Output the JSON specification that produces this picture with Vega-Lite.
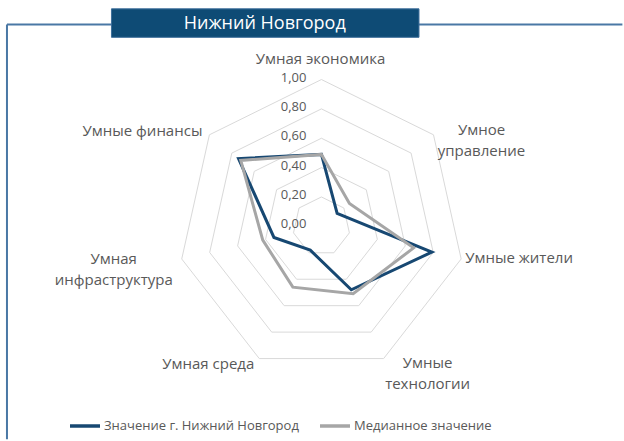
{
  "$schema": "https://vega.github.io/schema/vega-lite/v6.json",
  "width": 624,
  "height": 441,
  "autosize": {"type": "fit", "contains": "padding"},
  "padding": 0,
  "background": "white",
  "config": {"view": {"stroke": null}, "font": "Open Sans"},
  "datasets": {
    "scores": [
      {"series": "Значение г. Нижний Новгород", "axis": "Умная экономика", "k": 0, "value": 0.49},
      {"series": "Значение г. Нижний Новгород", "axis": "Умное управление", "k": 1, "value": 0.14},
      {"series": "Значение г. Нижний Новгород", "axis": "Умные жители", "k": 2, "value": 0.79},
      {"series": "Значение г. Нижний Новгород", "axis": "Умные технологии", "k": 3, "value": 0.48},
      {"series": "Значение г. Нижний Новгород", "axis": "Умная среда", "k": 4, "value": 0.18},
      {"series": "Значение г. Нижний Новгород", "axis": "Умная инфраструктура", "k": 5, "value": 0.34},
      {"series": "Значение г. Нижний Новгород", "axis": "Умные финансы", "k": 6, "value": 0.74},
      {"series": "Медианное значение", "axis": "Умная экономика", "k": 0, "value": 0.49},
      {"series": "Медианное значение", "axis": "Умное управление", "k": 1, "value": 0.25},
      {"series": "Медианное значение", "axis": "Умные жители", "k": 2, "value": 0.66},
      {"series": "Медианное значение", "axis": "Умные технологии", "k": 3, "value": 0.51},
      {"series": "Медианное значение", "axis": "Умная среда", "k": 4, "value": 0.46},
      {"series": "Медианное значение", "axis": "Умная инфраструктура", "k": 5, "value": 0.42},
      {"series": "Медианное значение", "axis": "Умные финансы", "k": 6, "value": 0.72}
    ],
    "rings": [
      {"ring": 0.2, "k": 0}, {"ring": 0.2, "k": 1}, {"ring": 0.2, "k": 2}, {"ring": 0.2, "k": 3}, {"ring": 0.2, "k": 4}, {"ring": 0.2, "k": 5}, {"ring": 0.2, "k": 6},
      {"ring": 0.4, "k": 0}, {"ring": 0.4, "k": 1}, {"ring": 0.4, "k": 2}, {"ring": 0.4, "k": 3}, {"ring": 0.4, "k": 4}, {"ring": 0.4, "k": 5}, {"ring": 0.4, "k": 6},
      {"ring": 0.6, "k": 0}, {"ring": 0.6, "k": 1}, {"ring": 0.6, "k": 2}, {"ring": 0.6, "k": 3}, {"ring": 0.6, "k": 4}, {"ring": 0.6, "k": 5}, {"ring": 0.6, "k": 6},
      {"ring": 0.8, "k": 0}, {"ring": 0.8, "k": 1}, {"ring": 0.8, "k": 2}, {"ring": 0.8, "k": 3}, {"ring": 0.8, "k": 4}, {"ring": 0.8, "k": 5}, {"ring": 0.8, "k": 6},
      {"ring": 1.0, "k": 0}, {"ring": 1.0, "k": 1}, {"ring": 1.0, "k": 2}, {"ring": 1.0, "k": 3}, {"ring": 1.0, "k": 4}, {"ring": 1.0, "k": 5}, {"ring": 1.0, "k": 6}
    ],
    "ticks": [
      {"v": 0, "label": "0,00"}, {"v": 0.2, "label": "0,20"}, {"v": 0.4, "label": "0,40"},
      {"v": 0.6, "label": "0,60"}, {"v": 0.8, "label": "0,80"}, {"v": 1.0, "label": "1,00"}
    ],
    "axes": [
      {"k": 0, "label": "Умная экономика"},
      {"k": 1, "label": "Умное\nуправление"},
      {"k": 2, "label": "Умные  жители"},
      {"k": 3, "label": "Умные\nтехнологии"},
      {"k": 4, "label": "Умная среда"},
      {"k": 5, "label": "Умная\nинфраструктура"},
      {"k": 6, "label": "Умные  финансы"}
    ],
    "title": [{"name": "Нижний Новгород"}]
  },
  "layer": [
    {
      "data": {"name": "rings"},
      "transform": [
        {"calculate": "datum.k * 2 * PI / 7", "as": "a"},
        {"calculate": "datum.ring * sin(datum.a)", "as": "px"},
        {"calculate": "datum.ring * cos(datum.a)", "as": "py"}
      ],
      "mark": {"type": "line", "interpolate": "linear-closed", "stroke": "#d9d9d9", "strokeWidth": 1},
      "encoding": {
        "x": {"field": "px", "type": "quantitative", "axis": null, "scale": {"domain": [-2.24306, 2.09028], "nice": false, "zero": false}},
        "y": {"field": "py", "type": "quantitative", "axis": null, "scale": {"domain": [-1.40803, 1.54181], "nice": false, "zero": false}},
        "detail": {"field": "ring", "type": "nominal"},
        "order": {"field": "k", "type": "quantitative"}
      }
    },
    {
      "data": {"name": "ticks"},
      "mark": {"type": "text", "align": "right", "baseline": "middle", "dx": -15, "dy": -2, "fontSize": 13, "color": "#595959"},
      "encoding": {
        "x": {"datum": 0, "type": "quantitative", "axis": null, "scale": {"domain": [-2.24306, 2.09028], "nice": false, "zero": false}},
        "y": {"field": "v", "type": "quantitative", "axis": null, "scale": {"domain": [-1.40803, 1.54181], "nice": false, "zero": false}},
        "text": {"field": "label"}
      }
    },
    {
      "data": {"name": "scores"},
      "transform": [
        {"calculate": "datum.k * 2 * PI / 7", "as": "a"},
        {"calculate": "datum.value * sin(datum.a)", "as": "px"},
        {"calculate": "datum.value * cos(datum.a)", "as": "py"}
      ],
      "mark": {"type": "line", "interpolate": "linear-closed", "strokeWidth": 3},
      "encoding": {
        "x": {"field": "px", "type": "quantitative", "axis": null, "scale": {"domain": [-2.24306, 2.09028], "nice": false, "zero": false}},
        "y": {"field": "py", "type": "quantitative", "axis": null, "scale": {"domain": [-1.40803, 1.54181], "nice": false, "zero": false}},
        "order": {"field": "k", "type": "quantitative"},
        "color": {
          "field": "series", "type": "nominal",
          "scale": {"domain": ["Значение г. Нижний Новгород", "Медианное значение"], "range": ["#174872", "#a6a6a6"]},
          "legend": {
            "title": null, "orient": "none", "legendX": 68, "legendY": 409, "direction": "horizontal",
            "symbolType": "stroke", "symbolSize": 900, "symbolStrokeWidth": 3.5,
            "labelFontSize": 13, "labelColor": "#595959", "labelFont": "Open Sans",
            "labelOffset": 2, "columnPadding": 14, "padding": 0, "labelLimit": 300
          }
        }
      }
    },
    {
      "data": {"name": "axes"},
      "transform": [
        {"calculate": "datum.k * 2 * PI / 7", "as": "a"},
        {"calculate": "sin(datum.a)", "as": "px"},
        {"calculate": "cos(datum.a)", "as": "py"},
        {"filter": "datum.k == 0"}
      ],
      "mark": {"type": "text", "align": "center", "baseline": "middle", "dx": -1, "dy": -21, "fontSize": 15, "color": "#595959", "lineBreak": "\n", "lineHeight": 21},
      "encoding": {
        "x": {"field": "px", "type": "quantitative", "axis": null, "scale": {"domain": [-2.24306, 2.09028], "nice": false, "zero": false}},
        "y": {"field": "py", "type": "quantitative", "axis": null, "scale": {"domain": [-1.40803, 1.54181], "nice": false, "zero": false}},
        "text": {"field": "label"}
      }
    },
    {
      "data": {"name": "axes"},
      "transform": [
        {"calculate": "datum.k * 2 * PI / 7", "as": "a"},
        {"calculate": "sin(datum.a)", "as": "px"},
        {"calculate": "cos(datum.a)", "as": "py"},
        {"filter": "datum.k == 1"}
      ],
      "mark": {"type": "text", "align": "center", "baseline": "middle", "dx": 48, "dy": -5, "fontSize": 15, "color": "#595959", "lineBreak": "\n", "lineHeight": 21},
      "encoding": {
        "x": {"field": "px", "type": "quantitative", "axis": null, "scale": {"domain": [-2.24306, 2.09028], "nice": false, "zero": false}},
        "y": {"field": "py", "type": "quantitative", "axis": null, "scale": {"domain": [-1.40803, 1.54181], "nice": false, "zero": false}},
        "text": {"field": "label"}
      }
    },
    {
      "data": {"name": "axes"},
      "transform": [
        {"calculate": "datum.k * 2 * PI / 7", "as": "a"},
        {"calculate": "sin(datum.a)", "as": "px"},
        {"calculate": "cos(datum.a)", "as": "py"},
        {"filter": "datum.k == 2"}
      ],
      "mark": {"type": "text", "align": "left", "baseline": "middle", "dx": 4, "dy": -1, "fontSize": 15, "color": "#595959", "lineBreak": "\n", "lineHeight": 21},
      "encoding": {
        "x": {"field": "px", "type": "quantitative", "axis": null, "scale": {"domain": [-2.24306, 2.09028], "nice": false, "zero": false}},
        "y": {"field": "py", "type": "quantitative", "axis": null, "scale": {"domain": [-1.40803, 1.54181], "nice": false, "zero": false}},
        "text": {"field": "label"}
      }
    },
    {
      "data": {"name": "axes"},
      "transform": [
        {"calculate": "datum.k * 2 * PI / 7", "as": "a"},
        {"calculate": "sin(datum.a)", "as": "px"},
        {"calculate": "cos(datum.a)", "as": "py"},
        {"filter": "datum.k == 3"}
      ],
      "mark": {"type": "text", "align": "center", "baseline": "middle", "dx": 44, "dy": 4, "fontSize": 15, "color": "#595959", "lineBreak": "\n", "lineHeight": 21},
      "encoding": {
        "x": {"field": "px", "type": "quantitative", "axis": null, "scale": {"domain": [-2.24306, 2.09028], "nice": false, "zero": false}},
        "y": {"field": "py", "type": "quantitative", "axis": null, "scale": {"domain": [-1.40803, 1.54181], "nice": false, "zero": false}},
        "text": {"field": "label"}
      }
    },
    {
      "data": {"name": "axes"},
      "transform": [
        {"calculate": "datum.k * 2 * PI / 7", "as": "a"},
        {"calculate": "sin(datum.a)", "as": "px"},
        {"calculate": "cos(datum.a)", "as": "py"},
        {"filter": "datum.k == 4"}
      ],
      "mark": {"type": "text", "align": "center", "baseline": "middle", "dx": -51, "dy": 5, "fontSize": 15, "color": "#595959", "lineBreak": "\n", "lineHeight": 21},
      "encoding": {
        "x": {"field": "px", "type": "quantitative", "axis": null, "scale": {"domain": [-2.24306, 2.09028], "nice": false, "zero": false}},
        "y": {"field": "py", "type": "quantitative", "axis": null, "scale": {"domain": [-1.40803, 1.54181], "nice": false, "zero": false}},
        "text": {"field": "label"}
      }
    },
    {
      "data": {"name": "axes"},
      "transform": [
        {"calculate": "datum.k * 2 * PI / 7", "as": "a"},
        {"calculate": "sin(datum.a)", "as": "px"},
        {"calculate": "cos(datum.a)", "as": "py"},
        {"filter": "datum.k == 5"}
      ],
      "mark": {"type": "text", "align": "center", "baseline": "middle", "dx": -68, "dy": 0, "fontSize": 15, "color": "#595959", "lineBreak": "\n", "lineHeight": 21},
      "encoding": {
        "x": {"field": "px", "type": "quantitative", "axis": null, "scale": {"domain": [-2.24306, 2.09028], "nice": false, "zero": false}},
        "y": {"field": "py", "type": "quantitative", "axis": null, "scale": {"domain": [-1.40803, 1.54181], "nice": false, "zero": false}},
        "text": {"field": "label"}
      }
    },
    {
      "data": {"name": "axes"},
      "transform": [
        {"calculate": "datum.k * 2 * PI / 7", "as": "a"},
        {"calculate": "sin(datum.a)", "as": "px"},
        {"calculate": "cos(datum.a)", "as": "py"},
        {"filter": "datum.k == 6"}
      ],
      "mark": {"type": "text", "align": "right", "baseline": "middle", "dx": -7, "dy": -4, "fontSize": 15, "color": "#595959", "lineBreak": "\n", "lineHeight": 21},
      "encoding": {
        "x": {"field": "px", "type": "quantitative", "axis": null, "scale": {"domain": [-2.24306, 2.09028], "nice": false, "zero": false}},
        "y": {"field": "py", "type": "quantitative", "axis": null, "scale": {"domain": [-1.40803, 1.54181], "nice": false, "zero": false}},
        "text": {"field": "label"}
      }
    },
    {
      "data": {"name": "title"},
      "mark": {"type": "rule", "stroke": "#4a78a5", "strokeWidth": 2},
      "encoding": {
        "x": {"datum": -2.1944, "type": "quantitative", "axis": null, "scale": {"domain": [-2.24306, 2.09028], "nice": false, "zero": false}},
        "x2": {"datum": 2.1},
        "y": {"datum": 1.3746, "type": "quantitative", "axis": null, "scale": {"domain": [-1.40803, 1.54181], "nice": false, "zero": false}}
      }
    },
    {
      "data": {"name": "title"},
      "mark": {"type": "rule", "stroke": "#4a78a5", "strokeWidth": 2},
      "encoding": {
        "x": {"datum": -2.1944, "type": "quantitative", "axis": null, "scale": {"domain": [-2.24306, 2.09028], "nice": false, "zero": false}},
        "y": {"datum": 1.3746, "type": "quantitative", "axis": null, "scale": {"domain": [-1.40803, 1.54181], "nice": false, "zero": false}},
        "y2": {"datum": -1.45}
      }
    },
    {
      "data": {"name": "title"},
      "mark": {"type": "rect", "fill": "#0e4b75", "stroke": "#3d6e9a", "strokeWidth": 1},
      "encoding": {
        "x": {"datum": -1.4653, "type": "quantitative", "axis": null, "scale": {"domain": [-2.24306, 2.09028], "nice": false, "zero": false}},
        "x2": {"datum": 0.6806},
        "y": {"datum": 1.4816, "type": "quantitative", "axis": null, "scale": {"domain": [-1.40803, 1.54181], "nice": false, "zero": false}},
        "y2": {"datum": 1.2876}
      }
    },
    {
      "data": {"name": "title"},
      "mark": {"type": "text", "align": "center", "baseline": "middle", "fontSize": 18, "color": "white"},
      "encoding": {
        "x": {"datum": -0.3958, "type": "quantitative", "axis": null, "scale": {"domain": [-2.24306, 2.09028], "nice": false, "zero": false}},
        "y": {"datum": 1.3813, "type": "quantitative", "axis": null, "scale": {"domain": [-1.40803, 1.54181], "nice": false, "zero": false}},
        "text": {"field": "name"}
      }
    }
  ]
}
